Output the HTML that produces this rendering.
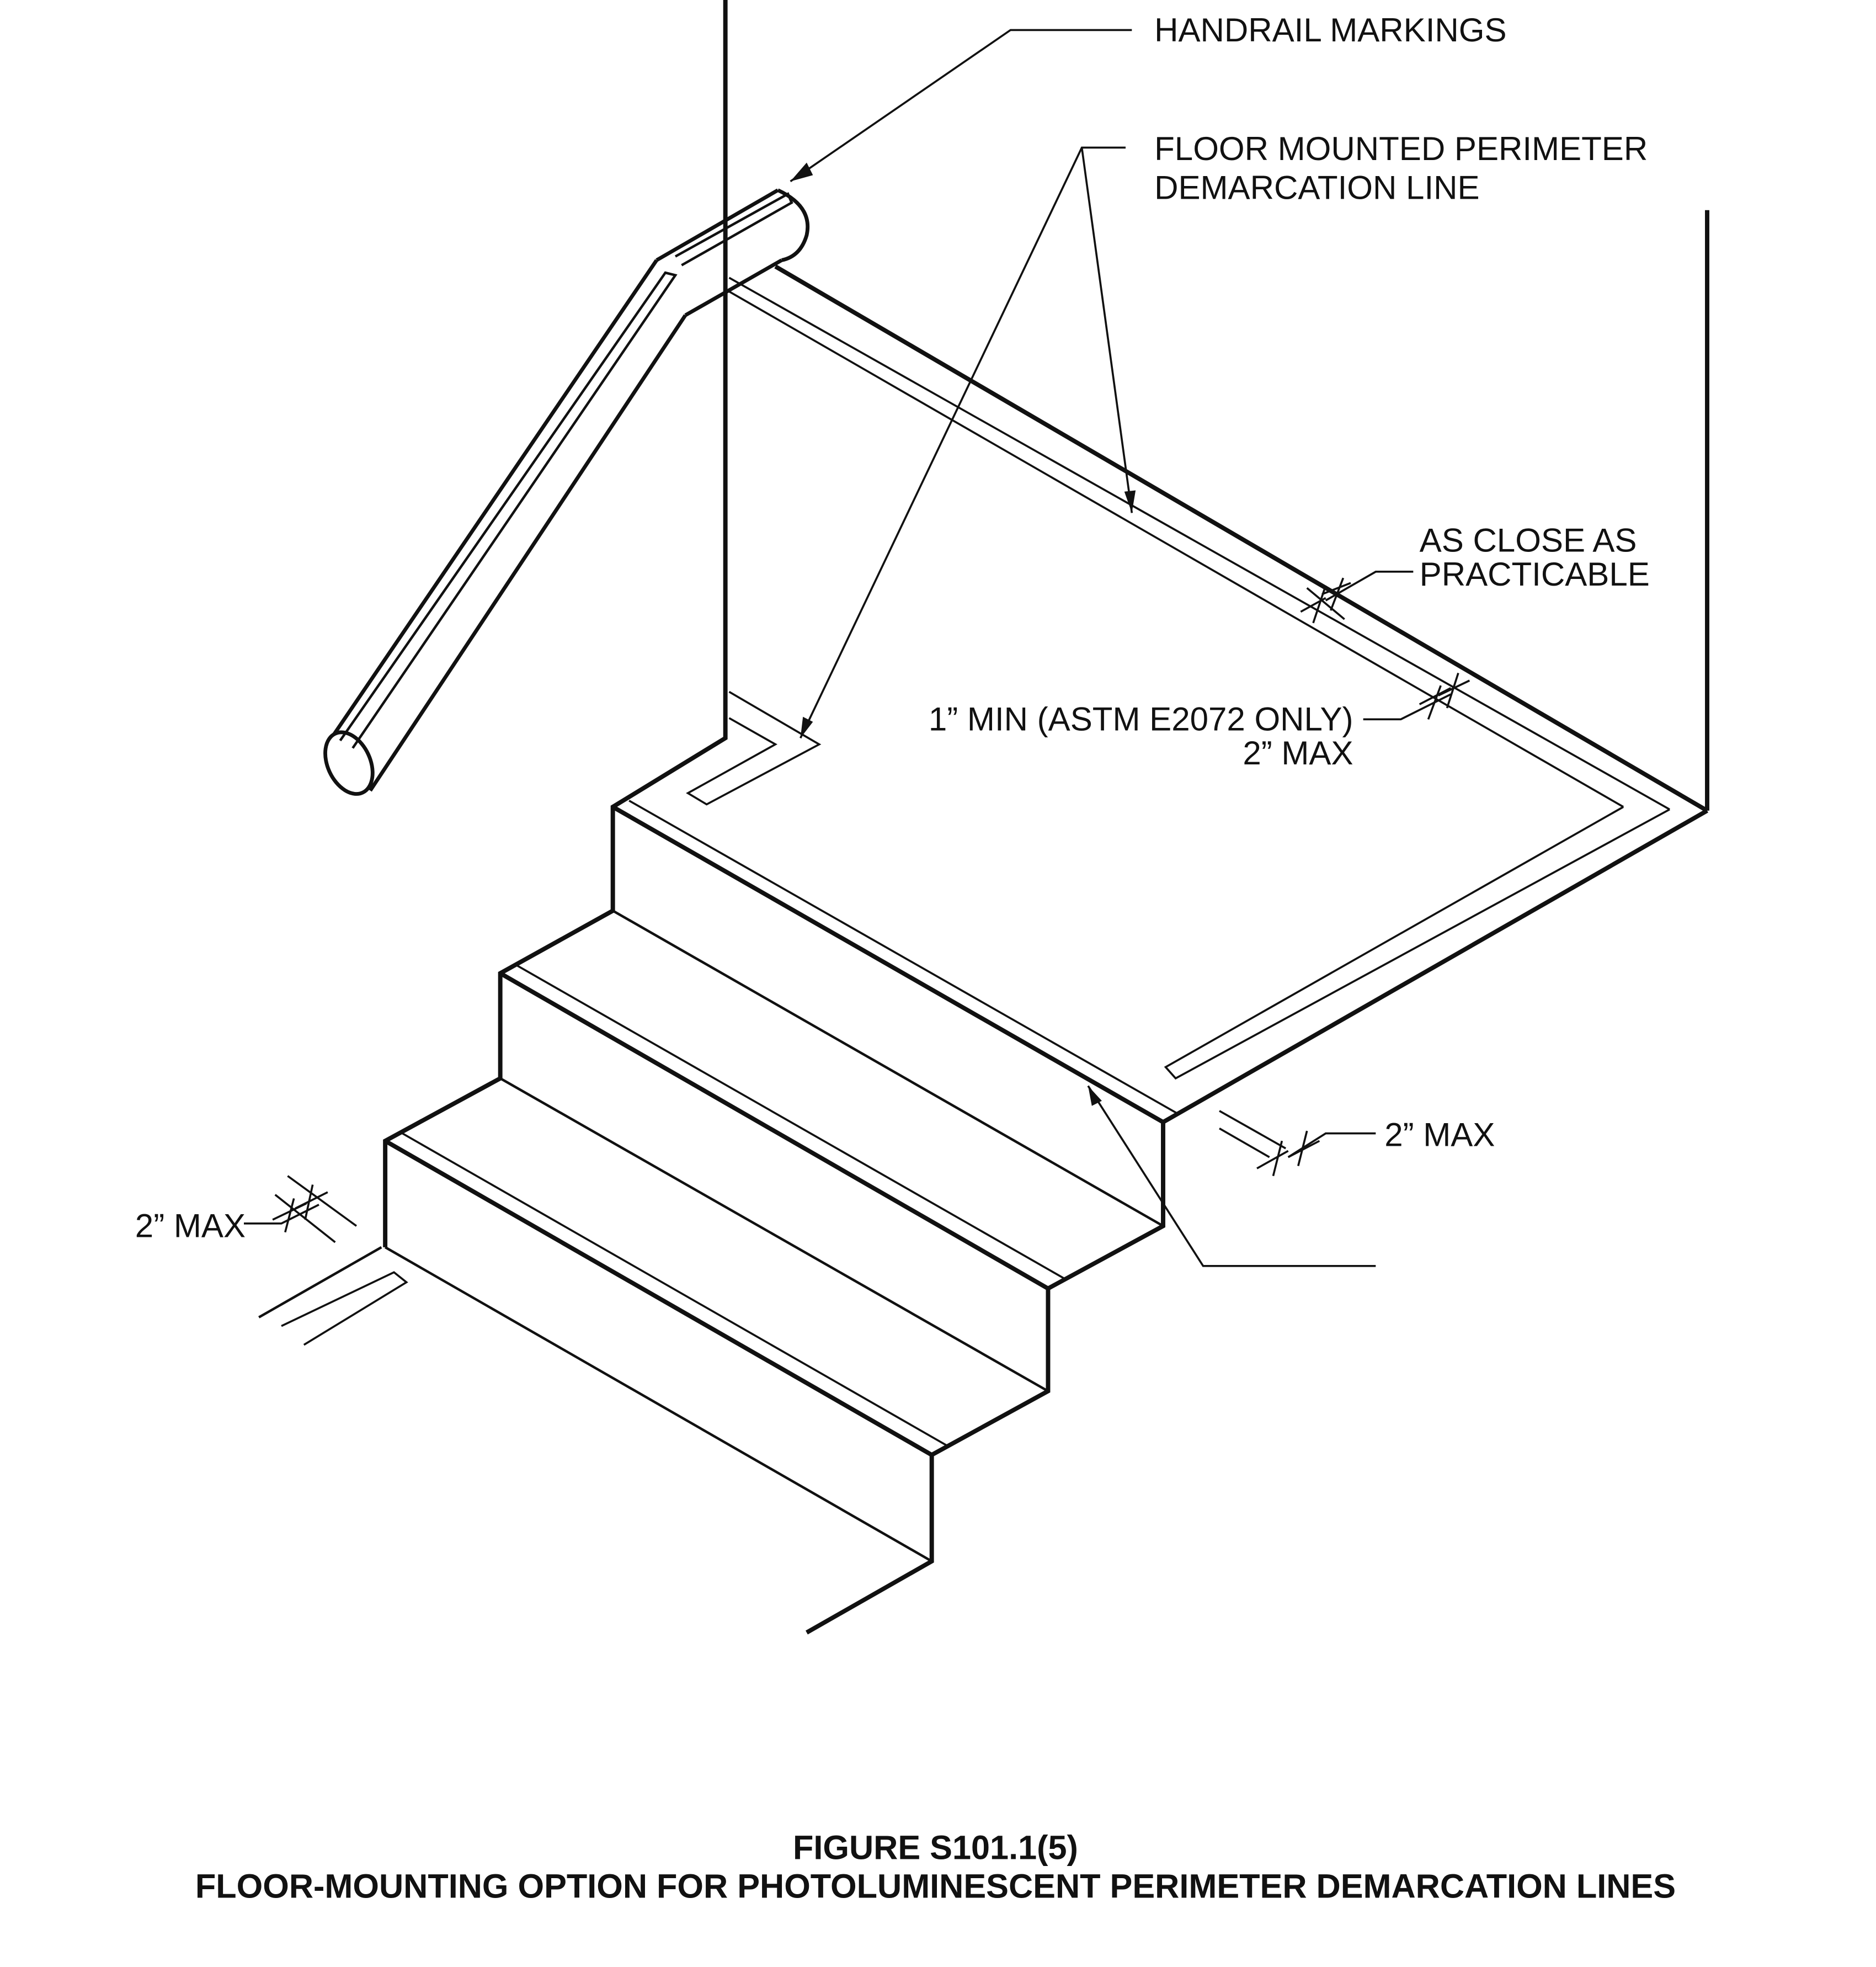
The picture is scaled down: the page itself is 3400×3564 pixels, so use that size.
<!DOCTYPE html>
<html><head><meta charset="utf-8"><style>
html,body{margin:0;padding:0;background:#fff;}
svg{display:block;}
text{font-family:"Liberation Sans",Arial,sans-serif;fill:#111;}
</style></head><body>
<svg width="3400" height="3564" viewBox="0 0 1500 1572.35" xmlns="http://www.w3.org/2000/svg">
<g stroke="#111" stroke-width="3.5" fill="none" stroke-linejoin="miter">
  <polyline points="580,0 580,590 490,645 490,728 400,778 400,862 308,912 308,997"/>
  <line x1="1365" y1="168" x2="1365" y2="648"/>
  <line x1="620" y1="213" x2="1365" y2="648"/>
  <polyline points="490,645 930,897 1365,648"/>
  <polyline points="930,897 930,980 838,1030 838,1112 745,1163 745,1248 645,1305"/>
  <line x1="400" y1="778" x2="838" y2="1030"/>
  <line x1="308" y1="912" x2="745" y2="1163"/>
</g>
<g stroke="#111" stroke-width="2" fill="none">
  <line x1="490" y1="728" x2="930" y2="980"/>
  <line x1="400" y1="862" x2="838" y2="1112"/>
  <line x1="308" y1="997" x2="745" y2="1248"/>
  <line x1="305" y1="997" x2="207" y2="1053"/>
</g>
<g stroke="#111" stroke-width="1.6" fill="none">
  <line x1="503" y1="640" x2="943" y2="891"/>
  <line x1="412" y1="771" x2="851" y2="1022"/>
  <line x1="320" y1="905" x2="758" y2="1156"/>
  <polyline points="225,1060 315,1017 325,1025 243,1075"/>
</g>
<g stroke="#111" stroke-width="1.6" fill="none">
  <polyline points="583,553 655,595 565,643 550,634 620,595 583,574"/>
  <line x1="583" y1="233" x2="1298" y2="645"/>
  <line x1="583" y1="222" x2="1335" y2="647"/>
  <polyline points="1335,647 940,862 932,853 1298,645"/>
</g>
<g stroke="#111" stroke-width="3" fill="none">
  <line x1="265" y1="590" x2="525" y2="208"/>
  <line x1="296" y1="632" x2="548" y2="252"/>
  <line x1="525" y1="208" x2="622" y2="152"/>
  <line x1="548" y1="252" x2="625" y2="208"/>
  <ellipse cx="279" cy="610" rx="17" ry="26" transform="rotate(-25 279 610)" fill="#fff"/>
  <path d="M622,152 Q650,165 645,188 Q640,205 625,208"/>
  <g stroke-width="2">
    <polyline points="272,592 532,218 540,220 282,598"/>
    <polyline points="540,205 630,155 633,162 545,212"/>
  </g>
</g>
<g stroke="#111" stroke-width="1.6" fill="none">
  <polyline points="905,24 808,24 632,145"/>
  <polyline points="900,118 865,118 640,590"/>
  <line x1="865" y1="118" x2="905" y2="410"/>
  <polyline points="1100,1012 962,1012 870,868"/>
  <polyline points="1130,457 1100,457 1060,480"/>
  <polyline points="1090,575 1120,575 1160,555"/>
  <polyline points="1100,906 1060,906 1030,925"/>
  <polyline points="195,978 225,978 255,963"/>
  <line x1="1045" y1="470" x2="1075" y2="495"/>
  <line x1="1040" y1="489" x2="1060" y2="478"/>
  <line x1="1050" y1="498" x2="1060" y2="468"/>
  <line x1="1057" y1="475" x2="1080" y2="466"/>
  <line x1="1064" y1="488" x2="1074" y2="462"/>
  <line x1="1135" y1="563" x2="1160" y2="550"/>
  <line x1="1142" y1="575" x2="1152" y2="548"/>
  <line x1="1150" y1="556" x2="1175" y2="544"/>
  <line x1="1157" y1="566" x2="1166" y2="538"/>
  <line x1="975" y1="888" x2="1028" y2="918"/>
  <line x1="975" y1="902" x2="1015" y2="925"/>
  <line x1="1005" y1="934" x2="1030" y2="920"/>
  <line x1="1018" y1="940" x2="1025" y2="912"/>
  <line x1="1030" y1="925" x2="1055" y2="912"/>
  <line x1="1038" y1="932" x2="1045" y2="904"/>
  <line x1="230" y1="940" x2="285" y2="980"/>
  <line x1="220" y1="955" x2="268" y2="993"/>
  <line x1="218" y1="975" x2="245" y2="962"/>
  <line x1="228" y1="985" x2="235" y2="958"/>
  <line x1="236" y1="966" x2="262" y2="953"/>
  <line x1="244" y1="975" x2="250" y2="947"/>
</g>
<g fill="#111">
  <polygon points="632,145 645,130 650,140"/>
  <polygon points="640,590 642,573 650,577"/>
  <polygon points="905,410 899,393 908,392"/>
  <polygon points="870,868 881,880 873,884"/>
</g>
<g font-size="26.5">
  <text x="923" y="33">HANDRAIL MARKINGS</text>
  <text x="923" y="128">FLOOR MOUNTED PERIMETER</text>
  <text x="923" y="159">DEMARCATION LINE</text>
  <text x="1135" y="441">AS CLOSE AS</text>
  <text x="1135" y="468">PRACTICABLE</text>
  <text x="1082" y="584" text-anchor="end">1” MIN (ASTM E2072 ONLY)</text>
  <text x="1082" y="611" text-anchor="end">2” MAX</text>
  <text x="1107" y="916">2” MAX</text>
  <text x="108" y="989">2” MAX</text>
</g>
<g font-size="27" font-weight="bold" text-anchor="middle">
  <text x="748" y="1486">FIGURE S101.1(5)</text>
  <text x="748" y="1517">FLOOR-MOUNTING OPTION FOR PHOTOLUMINESCENT PERIMETER DEMARCATION LINES</text>
</g>
</svg>
</body></html>
